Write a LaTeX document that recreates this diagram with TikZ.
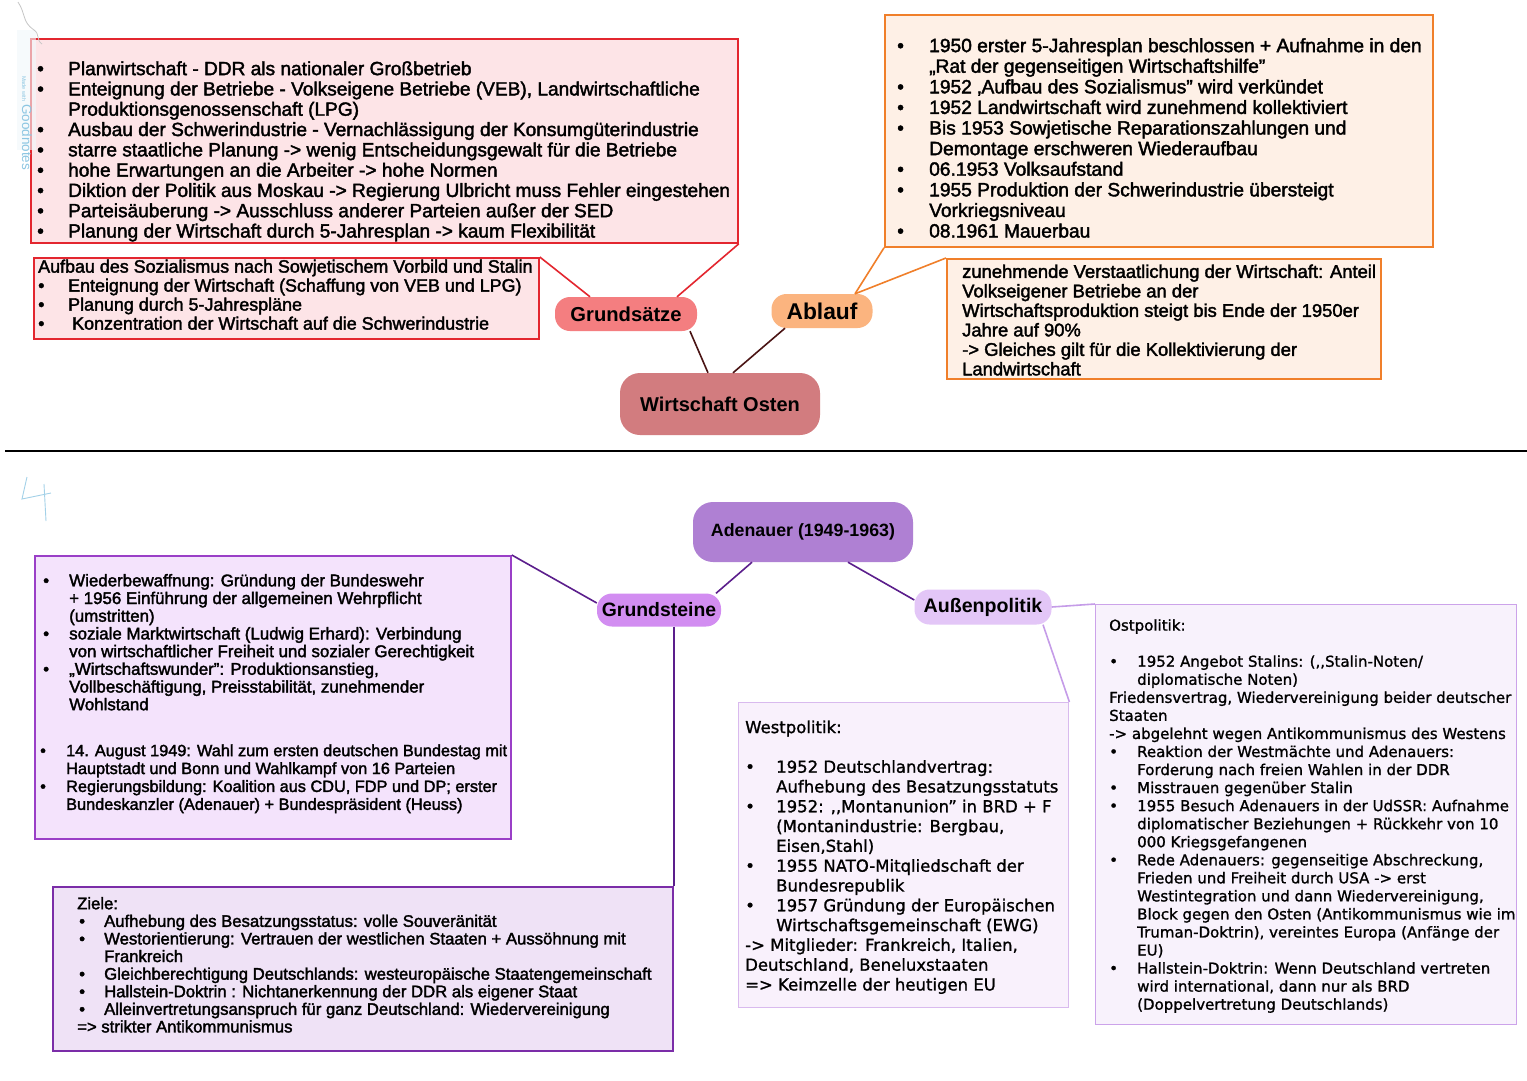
\documentclass[tikz,border=0pt]{standalone}
\usepackage{fontspec}
\setmainfont{Liberation Sans}[FakeBold=2]
\newfontfamily\topicf{Liberation Sans}
\newfontfamily\wmf{Liberation Sans}
\newfontfamily\dv{DejaVu Sans}[FakeBold=1.2]
\usetikzlibrary{calc}
\definecolor{redB}{HTML}{E3262F}
\definecolor{redF}{HTML}{FDE4E7}
\definecolor{gsF}{HTML}{F47E80}
\definecolor{abF}{HTML}{FBB47F}
\definecolor{woF}{HTML}{D27C7F}
\definecolor{darkL}{HTML}{4A1414}
\definecolor{orB}{HTML}{F07F2A}
\definecolor{orF}{HTML}{FEF0E6}
\definecolor{adF}{HTML}{AF80D3}
\definecolor{gstF}{HTML}{D28DF1}
\definecolor{apF}{HTML}{E3C6F7}
\definecolor{purB}{HTML}{9A3FC7}
\definecolor{purF}{HTML}{F4E3FC}
\definecolor{purBB}{HTML}{7B2DA8}
\definecolor{purFF}{HTML}{EFE2F6}
\definecolor{lavB}{HTML}{D9BAEE}
\definecolor{lavF}{HTML}{F9F1FC}
\definecolor{lavBB}{HTML}{CCA3EA}
\definecolor{lavFF}{HTML}{F8F2FC}
\definecolor{dpL}{HTML}{5B1E8C}
\definecolor{lavL}{HTML}{C59CE8}
\definecolor{wm}{HTML}{8CC6E2}
\newcommand{\fsz}[2]{\fontsize{#1}{#2}\selectfont}
\newcommand{\bl}{\textbullet}
\newcommand{\whole}[1]{\multicolumn{2}{@{}l@{}}{#1}}
\begin{document}
\begin{tikzpicture}[x=1pt,y=-1pt,
  box/.style={draw, line width=1.8pt, inner sep=0, anchor=north west},
  txt/.style={inner sep=0, anchor=north west, align=left, text=black},
  topic/.style={inner sep=0, text=black},
  conn/.style={line width=1.6pt}]
\useasboundingbox[fill=white] (0,0) rectangle (1527,1080);

% divider
\coordinate (divL) at (5,451);
\coordinate (divR) at (1527,451);
\draw[line width=2.2pt, black] (divL) -- (divR);

% ---------------- top section ----------------
\node[box, draw=redB, fill=redF, minimum width=707, minimum height=204] (boxA) at (30,38) {};
\node[txt, font=\fsz{19.1}{20.3}] (tA) at (37,60.7) {\begin{tabular}{@{}p{31pt}@{}l@{}}
\bl & Planwirtschaft - DDR als nationaler Großbetrieb\\
\bl & Enteignung der Betriebe - Volkseigene Betriebe (VEB), Landwirtschaftliche\\
 & Produktionsgenossenschaft (LPG)\\
\bl & Ausbau der Schwerindustrie - Vernachlässigung der Konsumgüterindustrie\\
\bl & starre staatliche Planung -> wenig Entscheidungsgewalt für die Betriebe\\
\bl & hohe Erwartungen an die Arbeiter -> hohe Normen\\
\bl & Diktion der Politik aus Moskau -> Regierung Ulbricht muss Fehler eingestehen\\
\bl & Parteisäuberung -> Ausschluss anderer Parteien außer der SED\\
\bl & Planung der Wirtschaft durch 5-Jahresplan -> kaum Flexibilität
\end{tabular}};

\node[box, draw=redB, fill=redF, minimum width=505, minimum height=81] (boxB) at (33,257) {};
\node[txt, font=\fsz{17.9}{19}] (tB) at (38,259.1) {\begin{tabular}{@{}p{30pt}@{}l@{}}
\whole{Aufbau des Sozialismus nach Sowjetischem Vorbild und Stalin}\\
\bl & Enteignung der Wirtschaft (Schaffung von VEB und LPG)\\
\bl & Planung durch 5-Jahrespläne\\
\bl & \hspace*{4pt}Konzentration der Wirtschaft auf die Schwerindustrie
\end{tabular}};

\node[box, draw=orB, fill=orF, minimum width=548, minimum height=232] (boxC) at (884,14) {};
\node[txt, font=\fsz{19.2}{20.6}] (tC) at (897,37.5) {\begin{tabular}{@{}p{32pt}@{}l@{}}
\bl & 1950 erster 5-Jahresplan beschlossen + Aufnahme in den\\
 & „Rat der gegenseitigen Wirtschaftshilfe"\\
\bl & 1952 ‚Aufbau des Sozialismus" wird verkündet\\
\bl & 1952 Landwirtschaft wird zunehmend kollektiviert\\
\bl & Bis 1953 Sowjetische Reparationszahlungen und\\
 & Demontage erschweren Wiederaufbau\\
\bl & 06.1953 Volksaufstand\\
\bl & 1955 Produktion der Schwerindustrie übersteigt\\
 & Vorkriegsniveau\\
\bl & 08.1961 Mauerbau
\end{tabular}};

\node[box, draw=orB, fill=orF, minimum width=434, minimum height=120] (boxD) at (946,258) {};
\node[txt, font=\fsz{18.4}{19.5}] (tD) at (962,264) {\begin{tabular}{@{}l@{}}
zunehmende Verstaatlichung der Wirtschaft: Anteil\\
Volkseigener Betriebe an der\\
Wirtschaftsproduktion steigt bis Ende der 1950er\\
Jahre auf 90\%\\
-> Gleiches gilt für die Kollektivierung der\\
Landwirtschaft
\end{tabular}};

\node[topic, fill=gsF, rounded corners=15pt, minimum width=142, minimum height=34, font=\topicf\bfseries\fsz{20.2}{21}] (gs) at (626,314) {Grundsätze};
\node[topic, fill=abF, rounded corners=15pt, minimum width=101, minimum height=34, font=\topicf\bfseries\fsz{22.8}{23}] (ab) at (822,311) {Ablauf};
\node[topic, fill=woF, rounded corners=20pt, minimum width=200, minimum height=62, font=\topicf\bfseries\fsz{20}{21}] (wo) at (720,404) {Wirtschaft Osten};

\draw[conn, redB] (boxA.south east) -- ([xshift=51pt]gs.north);
\draw[conn, redB] (boxB.north east) -- ([xshift=-36pt]gs.north);
\draw[conn, darkL] ([xshift=64pt]gs.south) -- ([xshift=-12pt]wo.north);
\draw[conn, darkL] ([xshift=-37pt]ab.south) -- ([xshift=13pt]wo.north);
\draw[conn, orB] ([xshift=33pt]ab.north) -- (boxC.south west);
\draw[conn, orB] ([xshift=33pt]ab.north) -- (boxD.north west);

% ---------------- bottom section ----------------
\node[box, draw=purB, fill=purF, minimum width=476, minimum height=283] (boxE) at (34,555) {};
\node[txt, font=\fsz{16.9}{17.7}] (tE) at (40,573.7) {\begin{tabular}{@{}p{29pt}@{}l@{}}
\hspace*{3pt}\bl & Wiederbewaffnung: Gründung der Bundeswehr\\
 & + 1956 Einführung der allgemeinen Wehrpflicht\\
 & (umstritten)\\
\hspace*{3pt}\bl & soziale Marktwirtschaft (Ludwig Erhard): Verbindung\\
 & von wirtschaftlicher Freiheit und sozialer Gerechtigkeit\\
\hspace*{3pt}\bl & „Wirtschaftswunder": Produktionsanstieg,\\
 & Vollbeschäftigung, Preisstabilität, zunehmender\\
 & Wohlstand
\end{tabular}};
\node[txt, font=\fsz{16.3}{17.9}] (tE2) at (40,743.4) {\begin{tabular}{@{}p{26pt}@{}l@{}}
\bl & 14. August 1949: Wahl zum ersten deutschen Bundestag mit\\
 & Hauptstadt und Bonn und Wahlkampf von 16 Parteien\\
\bl & Regierungsbildung: Koalition aus CDU, FDP und DP; erster\\
 & Bundeskanzler (Adenauer) + Bundespräsident (Heuss)
\end{tabular}};

\node[box, draw=purBB, fill=purFF, minimum width=620, minimum height=164] (boxF) at (52,886) {};
\node[txt, font=\fsz{16.7}{17.6}] (tF) at (77,896.7) {\begin{tabular}{@{}p{27pt}@{}l@{}}
\whole{Ziele:}\\
\hspace*{2pt}\bl & Aufhebung des Besatzungsstatus: volle Souveränität\\
\hspace*{2pt}\bl & Westorientierung: Vertrauen der westlichen Staaten + Aussöhnung mit\\
 & Frankreich\\
\hspace*{2pt}\bl & Gleichberechtigung Deutschlands: westeuropäische Staatengemeinschaft\\
\hspace*{2pt}\bl & Hallstein-Doktrin : Nichtanerkennung der DDR als eigener Staat\\
\hspace*{2pt}\bl & Alleinvertretungsanspruch für ganz Deutschland: Wiedervereinigung\\
\whole{=> strikter Antikommunismus}
\end{tabular}};

\node[box, draw=lavB, fill=lavF, line width=1.4pt, minimum width=330, minimum height=305] (boxG) at (738,702) {};
\node[txt, font=\dv\fsz{16.5}{19.8}] (tG) at (745,719) {\begin{tabular}{@{}p{31pt}@{}l@{}}
\whole{Westpolitik:}\\
 & \\
\bl & 1952 Deutschlandvertrag:\\
 & Aufhebung des Besatzungsstatuts\\
\bl & 1952: ,,Montanunion” in BRD + F\\
 & (Montanindustrie: Bergbau,\\
 & Eisen,Stahl)\\
\bl & 1955 NATO-Mitqliedschaft der\\
 & Bundesrepublik\\
\bl & 1957 Gründung der Europäischen\\
 & Wirtschaftsgemeinschaft (EWG)\\
\whole{-> Mitglieder: Frankreich, Italien,}\\
\whole{Deutschland, Beneluxstaaten}\\
\whole{=> Keimzelle der heutigen EU}
\end{tabular}};

\node[box, draw=lavBB, fill=lavFF, line width=1.4pt, minimum width=421, minimum height=420] (boxH) at (1095,604) {};
\node[txt, font=\dv\fsz{15}{18.05}] (tH) at (1109,617.8) {\begin{tabular}{@{}p{28pt}@{}l@{}}
\whole{Ostpolitik:}\\
 & \\
\bl & 1952 Angebot Stalins: (,,Stalin-Noten/\\
 & diplomatische Noten)\\
\whole{Friedensvertrag, Wiedervereinigung beider deutscher}\\
\whole{Staaten}\\
\whole{-> abgelehnt wegen Antikommunismus des Westens}\\
\bl & Reaktion der Westmächte und Adenauers:\\
 & Forderung nach freien Wahlen in der DDR\\
\bl & Misstrauen gegenüber Stalin\\
\bl & 1955 Besuch Adenauers in der UdSSR: Aufnahme\\
 & diplomatischer Beziehungen + Rückkehr von 10\\
 & 000 Kriegsgefangenen\\
\bl & Rede Adenauers: gegenseitige Abschreckung,\\
 & Frieden und Freiheit durch USA -> erst\\
 & Westintegration und dann Wiedervereinigung,\\
 & Block gegen den Osten (Antikommunismus wie im\\
 & Truman-Doktrin), vereintes Europa (Anfänge der\\
 & EU)\\
\bl & Hallstein-Doktrin: Wenn Deutschland vertreten\\
 & wird international, dann nur als BRD\\
 & (Doppelvertretung Deutschlands)
\end{tabular}};

\node[topic, fill=adF, rounded corners=20pt, minimum width=220, minimum height=60, font=\topicf\bfseries\fsz{17.8}{18}] (ad) at (803,532) {Adenauer (1949-1963)};
\node[topic, fill=gstF, rounded corners=15pt, minimum width=124, minimum height=33, font=\topicf\bfseries\fsz{19.4}{20}] (gst) at (659,610) {Grundsteine};
\node[topic, fill=apF, rounded corners=15pt, minimum width=137, minimum height=35, font=\topicf\bfseries\fsz{19.6}{20}] (ap) at (983,607) {Außenpolitik};

\draw[conn, dpL] ([xshift=-51pt]ad.south) -- ([xshift=57pt]gst.north);
\draw[conn, dpL] ([xshift=45pt]ad.south) -- ([yshift=7pt]ap.west);
\draw[conn, dpL] (boxE.north east) -- ([yshift=7pt]gst.west);
\draw[conn, dpL] (gst.south -| boxF.north east) -- (boxF.north east);
\draw[conn, lavL] (ap.east) -- (boxH.north west);
\draw[conn, lavL] ([xshift=60pt]ap.south) -- (boxG.north east);

% watermark and handwriting (on top)
\fill[wm!12, opacity=0.6] (17,30) rectangle (36,150);
\draw[gray!45, line width=0.8pt] (18,2) .. controls (26,14) and (22,22) .. (34,30) .. controls (40,34) and (36,40) .. (42,44);
\node[rotate=-90, inner sep=0, text=wm, anchor=west, font=\wmf] (wmk) at (27,76) {{\fsz{5.5}{6}Made with} {\fsz{13.5}{14}Goodnotes}};
\draw[wm!80, line width=0.9pt] (27,477) -- (22,499) -- (51,493);
\draw[wm!80, line width=0.9pt] (44,484) -- (46,521);
\end{tikzpicture}
\end{document}
